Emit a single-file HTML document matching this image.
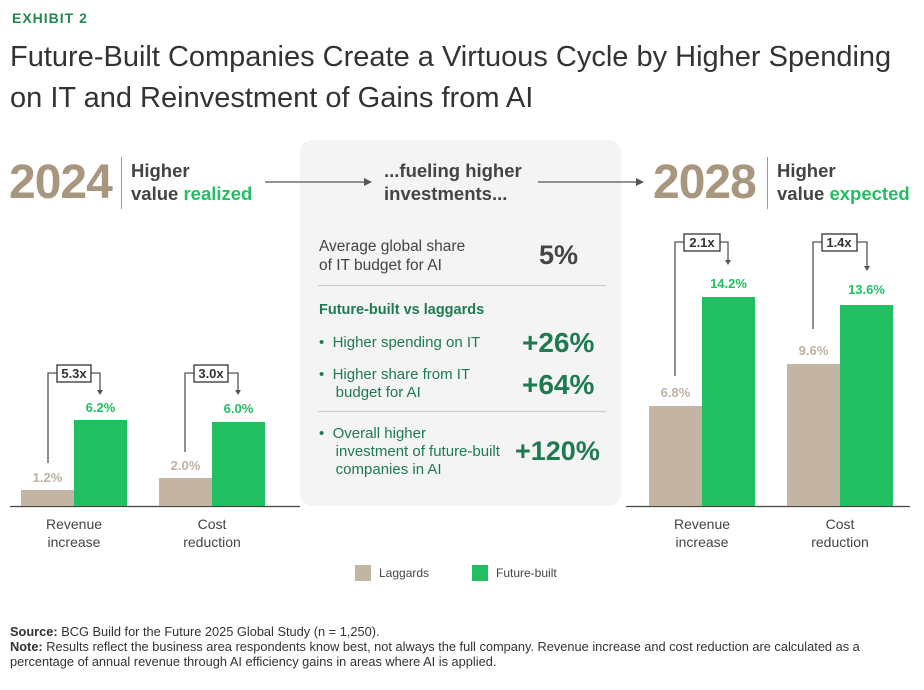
<!DOCTYPE html>
<html><head><meta charset="utf-8"><style>
*{margin:0;padding:0;box-sizing:border-box}
body{width:924px;height:690px;background:#fff;font-family:"Liberation Sans",sans-serif;color:#333;position:relative;overflow:hidden}
.a{position:absolute;white-space:nowrap}
.tan{background:#c4b4a3;position:absolute}
.grn{background:#21bf61;position:absolute}
.lt{color:#bfb1a2;font-weight:bold;font-size:13px;position:absolute;text-align:center;width:53px}
.lg{color:#21bf61;font-weight:bold;font-size:13px;position:absolute;text-align:center;width:53px}
.dg{color:#1e7a4f}
.cat{position:absolute;text-align:center;font-size:14px;line-height:18px;color:#444;width:110px}
</style></head><body>
<div class="a" style="left:12px;top:10px;font-size:14px;font-weight:bold;color:#1e8a4f;letter-spacing:1px">EXHIBIT 2</div>
<div class="a" style="left:10px;top:37px;font-size:29px;line-height:41px;color:#333;font-weight:300">Future-Built Companies Create a Virtuous Cycle by Higher Spending<br>on IT and Reinvestment of Gains from AI</div>

<div style="position:absolute;left:300px;top:140px;width:321px;height:366px;background:#f4f4f4;border-radius:12px"></div>

<div class="a" style="left:9px;top:155px;font-size:48px;font-weight:bold;color:#a8967f;letter-spacing:-1px">2024</div>
<div style="position:absolute;left:121px;top:157px;width:1px;height:52px;background:#999"></div>
<div class="a" style="left:131px;top:159px;font-size:18.5px;font-weight:bold;line-height:23px;color:#444">Higher<br>value <span style="color:#21bf61">realized</span></div>
<div class="a" style="left:384px;top:159px;font-size:18.5px;font-weight:bold;line-height:23px;color:#444">...fueling higher<br>investments...</div>
<div class="a" style="left:653px;top:155px;font-size:48px;font-weight:bold;color:#a8967f;letter-spacing:-1px">2028</div>
<div style="position:absolute;left:767px;top:157px;width:1px;height:52px;background:#999"></div>
<div class="a" style="left:777px;top:159px;font-size:18.5px;font-weight:bold;line-height:23px;color:#444">Higher<br>value <span style="color:#21bf61">expected</span></div>

<svg style="position:absolute;left:0;top:0" width="924" height="690">
<g stroke="#555" stroke-width="1.3" fill="none">
<line x1="265" y1="182" x2="364" y2="182"/><line x1="538" y1="182" x2="636" y2="182"/>
<polyline points="48,463 48,373 57,373"/><polyline points="91,373 100,373 100,390"/>
<polyline points="185,452 185,373 194,373"/><polyline points="228,373 238,373 238,390"/>
<polyline points="675,376 675,242 684,242"/><polyline points="720,242 728,242 728,260"/>
<polyline points="813,329 813,242 822,242"/><polyline points="857,242 867,242 867,266"/>
<rect x="57" y="365" width="34" height="17" stroke="#333"/><rect x="194" y="365" width="34" height="17" stroke="#333"/>
<rect x="684" y="234" width="36" height="17" stroke="#333"/><rect x="822" y="234" width="35" height="17" stroke="#333"/>
<line x1="10" y1="506.5" x2="300" y2="506.5" stroke="#444"/><line x1="626" y1="506.5" x2="910" y2="506.5" stroke="#444"/>
<line x1="318" y1="285.5" x2="606" y2="285.5" stroke="#ccc"/><line x1="318" y1="411.5" x2="606" y2="411.5" stroke="#ccc"/>
</g>
<g fill="#555">
<polygon points="364,178 372,182 364,186"/><polygon points="636,178 644,182 636,186"/>
<polygon points="97,390 103,390 100,395"/><polygon points="235,390 241,390 238,395"/>
<polygon points="725,260 731,260 728,265"/><polygon points="864,266 870,266 867,271"/>
</g>
<g font-family="Liberation Sans,sans-serif" font-weight="bold" font-size="13" fill="#333" text-anchor="middle">
<text x="74" y="378">5.3x</text><text x="211" y="378">3.0x</text><text x="702" y="247">2.1x</text><text x="839" y="247">1.4x</text>
</g>
</svg>

<div class="tan" style="left:21px;top:490px;width:53px;height:16px"></div>
<div class="grn" style="left:74px;top:420px;width:53px;height:86px"></div>
<div class="tan" style="left:159px;top:478px;width:53px;height:28px"></div>
<div class="grn" style="left:212px;top:422px;width:53px;height:84px"></div>
<div class="tan" style="left:649px;top:406px;width:53px;height:100px"></div>
<div class="grn" style="left:702px;top:297px;width:53px;height:209px"></div>
<div class="tan" style="left:787px;top:364px;width:53px;height:142px"></div>
<div class="grn" style="left:840px;top:305px;width:53px;height:201px"></div>

<div class="lt" style="left:21px;top:470px">1.2%</div>
<div class="lg" style="left:74px;top:400px">6.2%</div>
<div class="lt" style="left:159px;top:458px">2.0%</div>
<div class="lg" style="left:212px;top:401px">6.0%</div>
<div class="lt" style="left:649px;top:385px">6.8%</div>
<div class="lg" style="left:702px;top:276px">14.2%</div>
<div class="lt" style="left:787px;top:343px">9.6%</div>
<div class="lg" style="left:840px;top:282px">13.6%</div>

<div class="cat" style="left:19px;top:515px">Revenue<br>increase</div>
<div class="cat" style="left:157px;top:515px">Cost<br>reduction</div>
<div class="cat" style="left:647px;top:515px">Revenue<br>increase</div>
<div class="cat" style="left:785px;top:515px">Cost<br>reduction</div>

<div class="a" style="left:319px;top:237px;font-size:15.5px;line-height:19px;color:#444">Average global share<br>of IT budget for AI</div>
<div class="a" style="left:539px;top:240px;font-size:27px;font-weight:bold;color:#444">5%</div>
<div class="a dg" style="left:319px;top:302px;font-size:14.5px;font-weight:bold">Future-built vs laggards</div>
<div class="a dg" style="left:319px;top:334px;font-size:15px">•&nbsp; Higher spending on IT</div>
<div class="a dg" style="left:522px;top:327px;font-size:28px;font-weight:bold">+26%</div>
<div class="a dg" style="left:319px;top:366px;font-size:15px;line-height:18px">•&nbsp; Higher share from IT<br>&nbsp;&nbsp;&nbsp; budget for AI</div>
<div class="a dg" style="left:522px;top:369px;font-size:28px;font-weight:bold">+64%</div>
<div class="a dg" style="left:319px;top:425px;font-size:15px;line-height:18px">•&nbsp; Overall higher<br>&nbsp;&nbsp;&nbsp; investment of future-built<br>&nbsp;&nbsp;&nbsp; companies in AI</div>
<div class="a dg" style="left:515px;top:436px;font-size:27px;font-weight:bold">+120%</div>

<div class="tan" style="left:355px;top:565px;width:16px;height:16px"></div>
<div class="a" style="left:379px;top:566px;font-size:12px;color:#444">Laggards</div>
<div class="grn" style="left:472px;top:565px;width:16px;height:16px"></div>
<div class="a" style="left:496px;top:566px;font-size:12px;color:#444">Future-built</div>

<div class="a" style="left:10px;top:624px;font-size:12.8px;color:#333"><b>Source:</b> BCG Build for the Future 2025 Global Study (n = 1,250).</div>
<div class="a" style="left:10px;top:639px;font-size:12.8px;line-height:15px;color:#333"><b>Note:</b> Results reflect the business area respondents know best, not always the full company. Revenue increase and cost reduction are calculated as a<br>percentage of annual revenue through AI efficiency gains in areas where AI is applied.</div>
</body></html>
